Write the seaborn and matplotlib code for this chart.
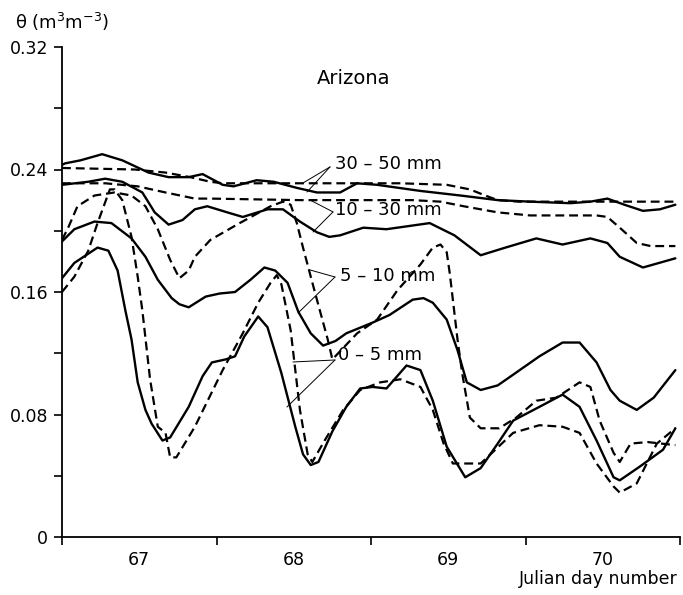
import matplotlib
matplotlib.use("Agg")
import matplotlib.pyplot as plt
import seaborn as sns
import pandas as pd
from matplotlib.ticker import FixedLocator, FixedFormatter, NullFormatter

# ---------------- data (Julian day, volumetric water content) ----------------
# 30-50 mm
d3050_solid_x = [67.00, 67.02, 67.12, 67.26, 67.39, 67.56, 67.69, 67.82, 67.91, 68.04, 68.11, 68.26, 68.37,
                 68.52, 68.65, 68.80, 68.91, 69.04, 69.32, 69.58, 69.82, 70.03, 70.29, 70.42, 70.53, 70.64,
                 70.76, 70.87, 70.97]
d3050_solid_y = [0.243, 0.244, 0.246, 0.250, 0.246, 0.238, 0.235, 0.235, 0.237, 0.230, 0.229, 0.233, 0.232,
                 0.228, 0.225, 0.225, 0.231, 0.230, 0.226, 0.223, 0.220, 0.219, 0.218, 0.219, 0.221, 0.217,
                 0.213, 0.214, 0.217]
d3050_dash_x = [67.00, 67.47, 67.67, 67.83, 67.96, 68.04, 68.54, 69.19, 69.49, 69.64, 69.74, 69.82, 69.96, 70.97]
d3050_dash_y = [0.241, 0.240, 0.238, 0.235, 0.232, 0.231, 0.231, 0.231, 0.230, 0.227, 0.223, 0.220, 0.219, 0.219]

# 10-30 mm
d1030_solid_x = [67.00, 67.17, 67.28, 67.39, 67.52, 67.60, 67.69, 67.78, 67.86, 67.94, 68.07, 68.17, 68.33,
                 68.43, 68.54, 68.65, 68.73, 68.80, 68.95, 69.10, 69.38, 69.54, 69.71, 69.87, 70.07, 70.24,
                 70.42, 70.53, 70.61, 70.76, 70.97]
d1030_solid_y = [0.230, 0.232, 0.234, 0.232, 0.225, 0.212, 0.204, 0.207, 0.214, 0.216, 0.212, 0.209, 0.214,
                 0.214, 0.206, 0.199, 0.196, 0.197, 0.202, 0.201, 0.205, 0.197, 0.184, 0.189, 0.195, 0.191,
                 0.195, 0.192, 0.183, 0.176, 0.182]
d1030_dash_x = [67.00, 67.28, 67.49, 67.67, 67.86, 67.96, 68.54, 69.27, 69.45, 69.60, 69.82, 70.03, 70.46,
                70.53, 70.61, 70.72, 70.81, 70.97]
d1030_dash_y = [0.231, 0.231, 0.229, 0.225, 0.221, 0.221, 0.220, 0.220, 0.219, 0.216, 0.212, 0.210, 0.210,
                0.209, 0.202, 0.192, 0.190, 0.190]

# 5-10 mm
d510_solid_x = [67.00, 67.08, 67.21, 67.32, 67.45, 67.54, 67.62, 67.71, 67.76, 67.82, 67.93, 68.02, 68.12,
                68.22, 68.31, 68.38, 68.46, 68.53, 68.61, 68.69, 68.77, 68.84, 69.01, 69.12, 69.27, 69.34,
                69.40, 69.49, 69.56, 69.62, 69.71, 69.82, 69.92, 70.09, 70.24, 70.35, 70.46, 70.55, 70.61,
                70.72, 70.83, 70.97]
d510_solid_y = [0.193, 0.201, 0.206, 0.205, 0.195, 0.183, 0.168, 0.156, 0.152, 0.150, 0.157, 0.159, 0.160,
                0.168, 0.176, 0.174, 0.166, 0.147, 0.133, 0.125, 0.128, 0.133, 0.140, 0.145, 0.155, 0.156,
                0.153, 0.142, 0.122, 0.101, 0.096, 0.099, 0.106, 0.118, 0.127, 0.127, 0.114, 0.096, 0.089,
                0.083, 0.091, 0.109]
d510_dash_x = [67.00, 67.04, 67.10, 67.21, 67.34, 67.45, 67.54, 67.62, 67.70, 67.76, 67.82, 67.86, 67.96,
               68.15, 68.35, 68.43, 68.48, 68.52, 68.56, 68.61, 68.65, 68.72, 68.75, 68.91, 69.04, 69.17,
               69.32, 69.40, 69.45, 69.49, 69.51, 69.56, 69.59, 69.64, 69.71, 69.83, 69.94, 70.07, 70.20,
               70.35, 70.42, 70.48, 70.57, 70.61, 70.68, 70.79, 70.97]
d510_dash_y = [0.194, 0.202, 0.216, 0.223, 0.225, 0.223, 0.216, 0.201, 0.181, 0.169, 0.174, 0.183, 0.194,
               0.205, 0.216, 0.219, 0.217, 0.205, 0.189, 0.170, 0.155, 0.129, 0.116, 0.133, 0.142, 0.161,
               0.178, 0.189, 0.191, 0.186, 0.172, 0.129, 0.107, 0.078, 0.071, 0.071, 0.078, 0.089, 0.091,
               0.101, 0.098, 0.076, 0.055, 0.049, 0.061, 0.062, 0.060]

# 0-5 mm
d05_solid_x = [67.00, 67.08, 67.23, 67.30, 67.36, 67.41, 67.45, 67.49, 67.54, 67.58, 67.65, 67.70, 67.82,
               67.91, 67.97, 68.06, 68.12, 68.18, 68.27, 68.33, 68.42, 68.51, 68.56, 68.61, 68.66, 68.75,
               68.84, 68.93, 69.01, 69.10, 69.23, 69.32, 69.40, 69.49, 69.61, 69.71, 69.82, 69.92, 70.09,
               70.24, 70.35, 70.46, 70.57, 70.61, 70.74, 70.89, 70.97]
d05_solid_y = [0.169, 0.179, 0.189, 0.187, 0.174, 0.148, 0.129, 0.101, 0.083, 0.074, 0.063, 0.065, 0.085,
               0.105, 0.114, 0.116, 0.118, 0.131, 0.144, 0.137, 0.107, 0.072, 0.054, 0.047, 0.049, 0.069,
               0.085, 0.097, 0.098, 0.097, 0.112, 0.109, 0.089, 0.059, 0.039, 0.045, 0.061, 0.076, 0.085,
               0.093, 0.085, 0.063, 0.039, 0.037, 0.046, 0.057, 0.071]
d05_dash_x = [67.00, 67.08, 67.17, 67.23, 67.31, 67.34, 67.39, 67.45, 67.49, 67.52, 67.57, 67.62, 67.67,
              67.70, 67.74, 67.86, 68.04, 68.17, 68.27, 68.35, 68.39, 68.42, 68.48, 68.54, 68.59, 68.62,
              68.70, 68.82, 68.93, 69.06, 69.19, 69.32, 69.40, 69.47, 69.53, 69.71, 69.92, 70.09, 70.24,
              70.35, 70.46, 70.57, 70.61, 70.72, 70.85, 70.97]
d05_dash_y = [0.160, 0.170, 0.187, 0.205, 0.227, 0.227, 0.220, 0.196, 0.170, 0.148, 0.103, 0.072, 0.068,
              0.052, 0.052, 0.072, 0.109, 0.133, 0.153, 0.166, 0.171, 0.165, 0.135, 0.083, 0.054, 0.049,
              0.063, 0.083, 0.096, 0.101, 0.103, 0.098, 0.083, 0.061, 0.048, 0.048, 0.068, 0.073, 0.072,
              0.068, 0.048, 0.033, 0.029, 0.035, 0.061, 0.071]

x_tick_labels = ["67", "68", "69", "70"]
y_tick_labels = ["0", "0.08", "0.16", "0.24", "0.32"]
depth_labels = ["30 – 50 mm", "10 – 30 mm", "5 – 10 mm", "0 – 5 mm"]

# ---------------- figure ----------------
sns.set_theme(style="white")
plt.rcParams["font.family"] = ["DejaVu Sans"]
plt.rcParams["mathtext.fontset"] = "dejavusans"
for key in ["text.color", "axes.labelcolor", "xtick.color", "ytick.color",
            "xtick.labelcolor", "ytick.labelcolor"]:
    plt.rcParams[key] = "black"

W, H = 683, 595
fig = plt.figure(figsize=(W / 100, H / 100), dpi=100)
ax = fig.add_axes([62 / W, 1 - 537 / H, (680 - 62) / W, (537 - 47) / H])

series = [
    (d3050_solid_x, d3050_solid_y, "-"),
    (d3050_dash_x, d3050_dash_y, "--"),
    (d1030_solid_x, d1030_solid_y, "-"),
    (d1030_dash_x, d1030_dash_y, "--"),
    (d510_solid_x, d510_solid_y, "-"),
    (d510_dash_x, d510_dash_y, "--"),
    (d05_solid_x, d05_solid_y, "-"),
    (d05_dash_x, d05_dash_y, "--"),
]
for xs, ys, ls in series:
    df = pd.DataFrame({"day": xs, "theta": ys})
    sns.lineplot(data=df, x="day", y="theta", ax=ax, color="black",
                 linewidth=1.7, estimator=None, sort=False, legend=False)
    ln = ax.get_lines()[-1]
    ln.set_solid_joinstyle("round")
    if ls == "--":
        ln.set_linestyle((0, (4, 2.2)))
        ln.set_linewidth(1.6)

ax.set_xlim(67, 71)
ax.set_ylim(0, 0.32)
ax.set_xlabel("")
ax.set_ylabel("")

for s in ["top", "right"]:
    ax.spines[s].set_visible(False)
for s in ["left", "bottom"]:
    ax.spines[s].set_linewidth(1.3)
    ax.spines[s].set_color("black")

# x ticks: day boundaries as major ticks, labels centred on each day
ax.xaxis.set_major_locator(FixedLocator([67, 68, 69, 70, 71]))
ax.xaxis.set_major_formatter(NullFormatter())
ax.xaxis.set_minor_locator(FixedLocator([67.5, 68.5, 69.5, 70.5]))
ax.xaxis.set_minor_formatter(FixedFormatter(x_tick_labels))
ax.tick_params(axis="x", which="major", direction="out", length=6, width=1.2, color="black", bottom=True)
ax.tick_params(axis="x", which="minor", length=0, pad=10, labelsize=12.5, bottom=True,
               labelcolor="black")

yt = [0, 0.04, 0.08, 0.12, 0.16, 0.20, 0.24, 0.28, 0.32]
ax.yaxis.set_major_locator(FixedLocator(yt))
ylabels = []
j = 0
for i, v in enumerate(yt):
    if i % 2 == 0:
        ylabels.append(y_tick_labels[j]); j += 1
    else:
        ylabels.append("")
ax.yaxis.set_major_formatter(FixedFormatter(ylabels))
ax.tick_params(axis="y", which="major", direction="out", length=6, width=1.2, color="black",
               left=True, pad=4, labelsize=12.5, labelcolor="black")

# texts
fig.text(15 / W, 1 - 22 / H, r"θ (m$^3$m$^{-3}$)", ha="left", va="center", fontsize=13, color="black")
fig.text(678 / W, 1 - 579 / H, "Julian day number", ha="right", va="center", fontsize=12.5, color="black")
ax.text(68.89, 0.2995, "Arizona", ha="center", va="center", fontsize=14, color="black")

# depth labels with leader lines
lab_pos = [(68.767, 0.2436), (68.767, 0.2136), (68.80, 0.1705), (68.786, 0.1189)]
leader_from = [(68.735, 0.2417), (68.754, 0.2123), (68.767, 0.1698), (68.767, 0.1156)]
leader_to = [[(68.56, 0.2312), (68.586, 0.2253)],
             [(68.605, 0.2201), (68.625, 0.1992)],
             [(68.605, 0.1744), (68.528, 0.1463)],
             [(68.495, 0.1143), (68.456, 0.0849)]]
for lab, (lx, ly), (fx, fy), targets in zip(depth_labels, lab_pos, leader_from, leader_to):
    ax.text(lx, ly, lab, ha="left", va="center", fontsize=13, color="black")
    for tx, ty in targets:
        ax.plot([fx, tx], [fy, ty], color="black", linewidth=0.7)

fig.savefig("out.png", dpi=100)
